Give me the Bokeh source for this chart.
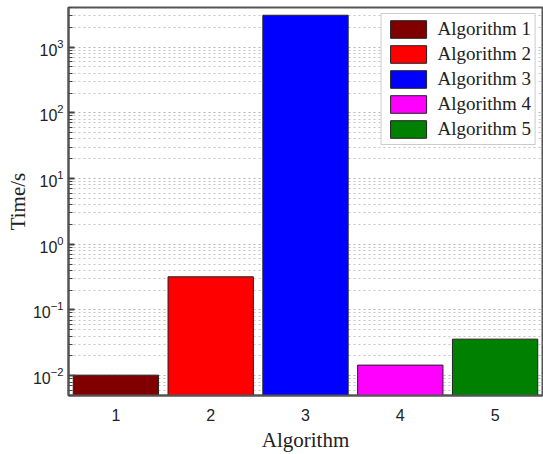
from bokeh.plotting import figure
from bokeh.models import ColumnDataSource, Range1d, FixedTicker, LogTickFormatter
from bokeh.embed import file_html
from bokeh.resources import INLINE

# ---- data ----
algorithms = ["Algorithm 1", "Algorithm 2", "Algorithm 3", "Algorithm 4", "Algorithm 5"]
x_positions = [1, 2, 3, 4, 5]
times = [0.0102, 0.32, 3050, 0.0145, 0.036]
colors = ["#800000", "#FF0000", "#0000FF", "#FF00FF", "#008000"]

x_tick_labels = ["1", "2", "3", "4", "5"]
y_major_ticks = [0.01, 0.1, 1, 10, 100, 1000]
y_minor_ticks = [m * 10.0 ** d for d in range(-3, 4) for m in range(2, 10)]

source = ColumnDataSource(dict(x=x_positions, top=times, names=algorithms, color=colors))

p = figure(width=543, height=454, y_axis_type="log",
           x_range=Range1d(0.5, 5.5), y_range=Range1d(0.005, 4000),
           output_backend="svg", toolbar_location=None,
           min_border_left=68, min_border_right=1, min_border_top=7, min_border_bottom=58)

p.vbar(x="x", top="top", bottom=0.001, width=0.9, source=source,
       fill_color="color", line_color="#222222", line_width=1, legend_field="names")

# outline / frame
p.outline_line_color = "#555555"
p.outline_line_width = 2
p.background_fill_color = "white"
p.border_fill_color = "white"

# x axis
p.xaxis.ticker = FixedTicker(ticks=x_positions)
p.xaxis.major_label_overrides = {x: lab for x, lab in zip(x_positions, x_tick_labels)}
p.xaxis.major_tick_in = 0
p.xaxis.major_tick_out = 0
p.xaxis.minor_tick_in = 0
p.xaxis.minor_tick_out = 0
p.xaxis.axis_line_color = "#555555"
p.xaxis.axis_line_width = 2
p.xaxis.major_label_text_font = "Liberation Sans"
p.xaxis.major_label_text_font_size = "16px"
p.xaxis.major_label_text_color = "#222222"
p.xaxis.major_label_standoff = 13
p.xaxis.axis_label = "Algorithm"
p.xaxis.axis_label_text_font = "Liberation Serif"
p.xaxis.axis_label_text_font_style = "normal"
p.xaxis.axis_label_text_font_size = "21px"
p.xaxis.axis_label_text_color = "#222222"
p.xaxis.axis_label_standoff = 4
p.xgrid.visible = False

# y axis
yticker = FixedTicker(ticks=y_major_ticks, minor_ticks=y_minor_ticks)
p.yaxis.ticker = yticker
p.yaxis.formatter = LogTickFormatter()
p.yaxis.major_tick_in = 6
p.yaxis.major_tick_out = 0
p.yaxis.minor_tick_in = 4
p.yaxis.minor_tick_out = 0
p.yaxis.major_tick_line_color = "#444444"
p.yaxis.minor_tick_line_color = "#444444"
p.yaxis.major_tick_line_width = 2
p.yaxis.axis_line_color = "#555555"
p.yaxis.axis_line_width = 2
p.yaxis.major_label_text_font = "Liberation Sans"
p.yaxis.major_label_text_font_size = "16px"
p.yaxis.major_label_text_color = "#222222"
p.yaxis.major_label_standoff = 5
p.yaxis.axis_label = "Time/s"
p.yaxis.axis_label_text_font = "Liberation Serif"
p.yaxis.axis_label_text_font_style = "normal"
p.yaxis.axis_label_text_font_size = "21px"
p.yaxis.axis_label_text_color = "#222222"
p.yaxis.axis_label_standoff = 0

p.ygrid.ticker = yticker
p.ygrid.grid_line_color = "#b4b4b4"
p.ygrid.grid_line_dash = "2 3"
p.ygrid.grid_line_width = 1
p.ygrid.minor_grid_line_color = "#c4c4c4"
p.ygrid.minor_grid_line_dash = "2 3"
p.ygrid.minor_grid_line_width = 1

# legend
lg = p.legend[0]
lg.location = "top_right"
lg.margin = 6
lg.padding = 4
lg.spacing = 3
lg.glyph_width = 45
lg.glyph_height = 22
lg.label_height = 22
lg.label_standoff = 7
lg.label_text_font = "Liberation Serif"
lg.label_text_font_size = "19px"
lg.label_text_color = "#222222"
lg.border_line_color = "#999999"
lg.border_line_width = 1
lg.background_fill_color = "white"
lg.background_fill_alpha = 1.0

open("out.html", "w").write(file_html(p, INLINE))
